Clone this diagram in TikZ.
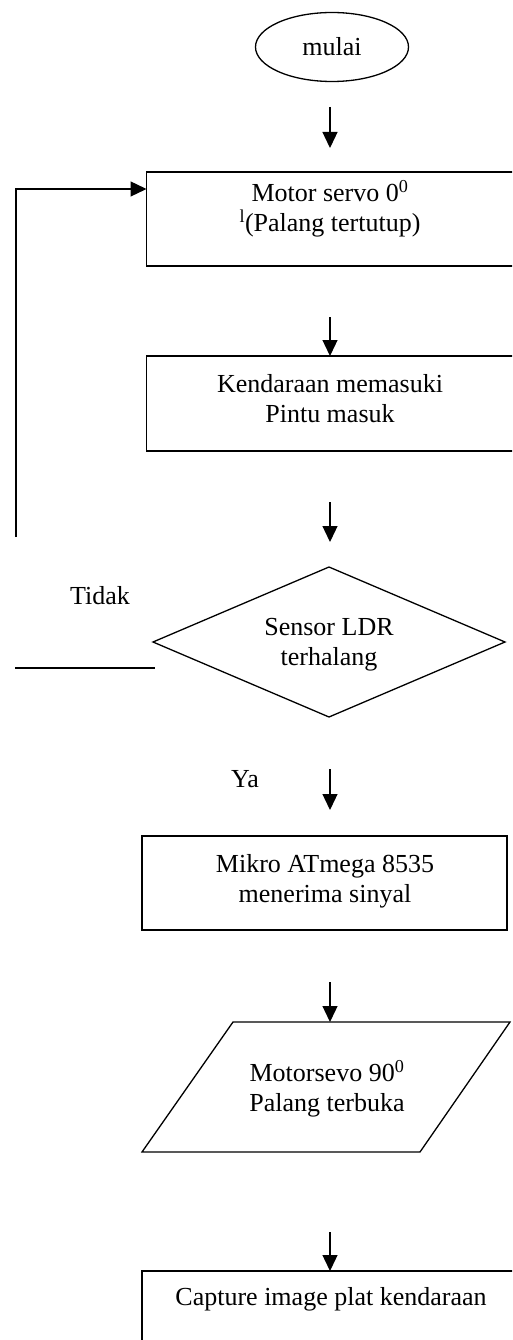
\documentclass[tikz,border=0pt]{standalone}
\usepackage{fontspec}
\setmainfont{Liberation Serif}
\usetikzlibrary{shapes.geometric,arrows.meta}

\begin{document}
\begin{tikzpicture}[x=1pt,y=1pt,yscale=-1,xscale=1,
  every node/.style={font=\fontsize{26}{30}\selectfont},
  garis/.style={line width=1.3pt},
  kotak/.style={draw,garis,inner sep=0pt,outer sep=0pt},
  teks/.style={align=center,inner sep=0pt},
  panah/.style={garis,-{Triangle[length=16pt,width=15pt]}}]
\useasboundingbox (0,0) rectangle (512,1340);
\clip (0,0) rectangle (512,1340);

%Start [id:mulai]
\node [kotak,ellipse,minimum width=153,minimum height=69] (mulai) at (332,47) {mulai};

%Process boxes (right side runs off the page)
\node [kotak,anchor=west,minimum width=390,minimum height=94] (servo) at (146.5,219) {};
\node [teks] (servoT) at (330,209) {Motor servo 0\textsuperscript{0}\\\textsuperscript{l}(Palang tertutup)};

\node [kotak,anchor=west,minimum width=390,minimum height=95] (masuk) at (146.5,403.5) {};
\node [teks] (masukT) at (330,399) {Kendaraan memasuki\\Pintu masuk};

%Decision
\node [kotak,diamond,minimum width=352,minimum height=150] (ldr) at (329,642) {};
\node [teks] (ldrT) at (329,645) {Sensor LDR\\terhalang};

\node [kotak,minimum width=365,minimum height=94] (mikro) at (324.5,883) {};
\node [teks] (mikroT) at (325,881) {Mikro ATmega 8535\\menerima sinyal};

%Parallelogram
\draw [garis] (233,1022) -- (510,1022) -- (420,1152) -- (142,1152) -- cycle;
\node [teks] (servoBuka) at (327,1089) {Motorsevo 90\textsuperscript{0}\\Palang terbuka};

\node [kotak,anchor=north west,minimum width=400,minimum height=94] (capture) at (142,1271) {};
\node [teks] (captureT) at (331,1299) {Capture image plat kendaraan};

% Text Node
\node [teks] (tidak) at (100,596) {Tidak};
% Text Node
\node [teks] (ya) at (245,779) {Ya};

%Free ends of the connectors
\coordinate (a1) at (330,107);
\coordinate (b1) at (330,148);
\coordinate (a2) at (330,317);
\coordinate (a3) at (330,502);
\coordinate (b3) at (330,542);
\coordinate (a4) at (330,769);
\coordinate (b4) at (330,810);
\coordinate (a5) at (330,982);
\coordinate (b5) at (330,1022);
\coordinate (a6) at (330,1232);
\coordinate (balik) at (16,537);
\coordinate (tidakA) at (15,668);
\coordinate (tidakB) at (155,668);

%Straight Lines
\draw [panah] (a1) -- (b1);
\draw [panah] (a2) -- (a2 |- masuk.north);
\draw [panah] (a3) -- (b3);
\draw [panah] (a4) -- (b4);
\draw [panah] (a5) -- (b5);
\draw [panah] (a6) -- (a6 |- capture.north);
\draw [panah] (balik) |- ([yshift=-30pt]servo.west);
\draw [garis] (tidakA) -- (tidakB);

\end{tikzpicture}
\end{document}
